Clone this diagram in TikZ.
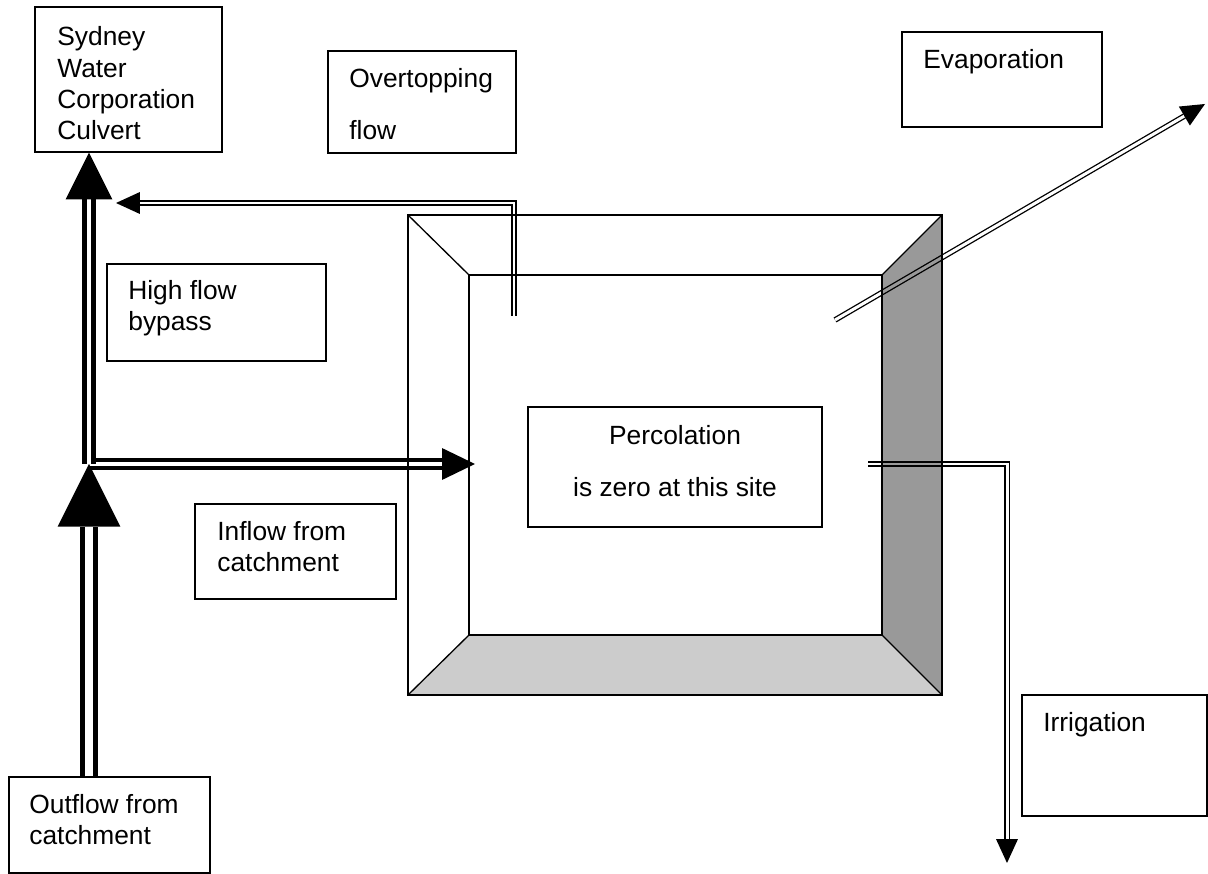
\documentclass[tikz,border=0pt]{standalone}
\usepackage{fontspec}
\setmainfont{Liberation Sans}
\usetikzlibrary{arrows.meta,fit}
\definecolor{FaceDark}{HTML}{999999}
\definecolor{FaceLight}{HTML}{CCCCCC}
\tikzset{
  box/.style={draw=black, line width=0.75pt, inner sep=0pt},
  boxtext/.style={anchor=base west, align=left, inner sep=0pt, font=\fontsize{15}{17.9}\selectfont},
  pondline/.style={draw=black, line width=0.75pt},
  pipe/.style={double, draw=black, line width=0.75pt, double distance=1.7pt, -{Triangle[length=13.6pt,width=12.5pt,line width=0pt]}},
  inflowpipe/.style={double, draw=black, line width=2pt, double distance=2.3pt, -{Triangle[length=18.7pt,width=18.1pt,line width=0pt]}},
  bypassflow/.style={double, draw=black, line width=2.5pt, double distance=2.8pt, -{Triangle[length=26.6pt,width=26.6pt,line width=0pt]}},
  mainflow/.style={double, draw=black, line width=3.4pt, double distance=4pt, -{Triangle[length=35.7pt,width=35.7pt,line width=0pt]}},
}

\begin{document}
\begin{tikzpicture}[x=0.02cm,y=-0.02cm]
\useasboundingbox (0,0) rectangle (1208,874);
\fill[white] (0,0) rectangle (1208,874);

% labelled boxes (text anchored on its last baseline)
\node[box, fit={(35,7) (222,152)}] (culvert) {};
\node[boxtext] (culverttxt) at (57,140) {Sydney\\Water\\Corporation\\Culvert};
\node[box, fit={(328,51) (516,153)}] (overtop) {};
\node[boxtext] (overtoptxt) at (349,140) {Overtopping\\[12.1pt]flow};
\node[box, fit={(902,32) (1102,127)}] (evap) {};
\node[boxtext] (evaptxt) at (923,69) {Evaporation};
\node[box, fit={(107,264) (326,361)}] (bypass) {};
\node[boxtext] (bypasstxt) at (128,331) {High flow\\bypass};
\node[box, fit={(195,504) (396,599)}] (inflow) {};
\node[boxtext] (inflowtxt) at (217,572) {Inflow from\\catchment};
\node[box, fit={(9,777) (210,873)}] (outflow) {};
\node[boxtext] (outflowtxt) at (29,845) {Outflow from\\catchment};
\node[box, fit={(1022,695) (1207,816)}] (irrig) {};
\node[boxtext] (irrigtxt) at (1043,732) {Irrigation};

% flow paths
\coordinate (junction) at (89,464);
\coordinate (pondin) at (475,464);
\coordinate (spill) at (514,316);
\coordinate (bypassin) at (116,203);
\coordinate (evapfrom) at (835,320);
\coordinate (evapto) at (1205,104);
\coordinate (drawoff) at (868,464);
\coordinate (irrigout) at (1007,863);

\draw[inflowpipe] (junction) -- (pondin);
\draw[mainflow] (junction |- outflow.north) -- (junction);
\draw[bypassflow] (junction) -- (junction |- culvert.south);
\draw[pipe] (spill) |- (bypassin);
\draw[pipe] (evapfrom) -- (evapto);
\draw[pipe] (drawoff) -| (irrigout);

% pond: sloped sides, shaded faces
\begin{scope}[blend mode=multiply]
  \fill[FaceDark] (882,275) -- (942,215) -- (942,695) -- (882,635) -- cycle;
  \fill[FaceLight] (469,635) -- (882,635) -- (942,695) -- (408,695) -- cycle;
\end{scope}
\draw[pondline] (408,215) rectangle (942,695);
\draw[pondline] (469,275) rectangle (882,635);
\draw[pondline] (408,215) -- (469,275) (942,215) -- (882,275)
  (408,695) -- (469,635) (942,695) -- (882,635);

% percolation note inside the pond
\node[box, fill=white, fit={(528,407) (822,527)}] (percol) {};
\node[boxtext, anchor=base, align=center] (perceltxt) at (675,497) {Percolation\\[12.1pt]is zero at this site};
\end{tikzpicture}
\end{document}
